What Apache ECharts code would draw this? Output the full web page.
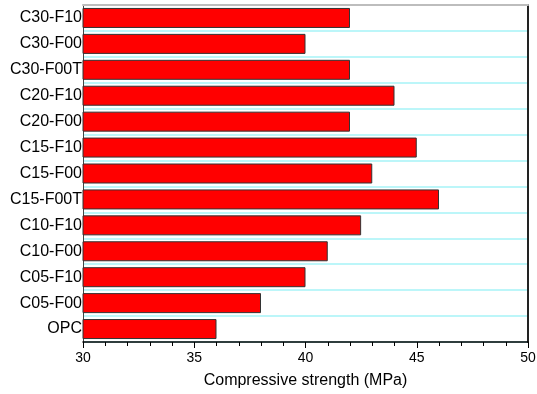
<!DOCTYPE html>
<html>
<head>
<meta charset="utf-8">
<script src="https://cdn.jsdelivr.net/npm/echarts@6/dist/echarts.min.js"></script>
<style>
  html, body { margin: 0; padding: 0; background: #fff; }
  #chart { width: 537px; height: 394px; }
</style>
</head>
<body>
<div id="chart"></div>
<script>
// Mix designs, listed bottom to top
const categories = ['OPC', 'C05-F00', 'C05-F10', 'C10-F00', 'C10-F10', 'C15-F00T',
  'C15-F00', 'C15-F10', 'C20-F00', 'C20-F10', 'C30-F00T', 'C30-F00', 'C30-F10'];
// Compressive strength (MPa)
const strength = [36, 38, 40, 41, 42.5, 46, 43, 45, 42, 44, 42, 40, 42];
const xTicks = [30, 35, 40, 45, 50];

const FONT = "'Liberation Sans', Arial, sans-serif";

const chart = echarts.init(document.getElementById('chart'));
chart.setOption({
  animation: false,
  grid: { left: 83, right: 9, top: 5, bottom: 52, containLabel: false, outerBoundsMode: 'none' },
  xAxis: [{
    type: 'value',
    position: 'bottom',
    min: xTicks[0],
    max: xTicks[xTicks.length - 1],
    interval: 5,
    name: 'Compressive strength (MPa)',
    nameLocation: 'middle',
    nameGap: 31,
    nameTextStyle: { fontFamily: FONT, fontSize: 16, color: '#000' },
    axisLine: { show: true, lineStyle: { color: '#000', width: 1.5 } },
    axisTick: { show: true, length: 6, lineStyle: { color: '#000' } },
    minorTick: { show: true, splitNumber: 5, length: 4, lineStyle: { color: '#000' } },
    axisLabel: { fontFamily: FONT, fontSize: 14, color: '#000', margin: 9 },
    splitLine: { show: false }
  }, {
    type: 'value',
    position: 'top',
    min: xTicks[0],
    max: xTicks[xTicks.length - 1],
    axisLine: { show: true, lineStyle: { color: '#bdbdbd', width: 2 } },
    axisTick: { show: false },
    axisLabel: { show: false },
    splitLine: { show: false }
  }],
  yAxis: [{
    type: 'category',
    data: categories,
    position: 'left',
    axisLine: { show: true, lineStyle: { color: '#444', width: 1 } },
    axisTick: { show: false },
    axisLabel: { fontFamily: FONT, fontSize: 16, color: '#000', margin: 1, padding: [4, 0, 0, 0] },
    splitLine: { show: true, lineStyle: { color: '#a6f3f7', width: 1.5 } }
  }, {
    type: 'category',
    data: categories,
    position: 'right',
    axisLine: { show: true, lineStyle: { color: '#222', width: 2 } },
    axisTick: { show: false },
    axisLabel: { show: false },
    splitLine: { show: false }
  }],
  series: [{
    type: 'bar',
    data: strength,
    xAxisIndex: 0,
    yAxisIndex: 0,
    barWidth: 20,
    itemStyle: { color: '#ff0000', borderColor: '#333', borderWidth: 1 }
  }]
});
</script>
</body>
</html>
